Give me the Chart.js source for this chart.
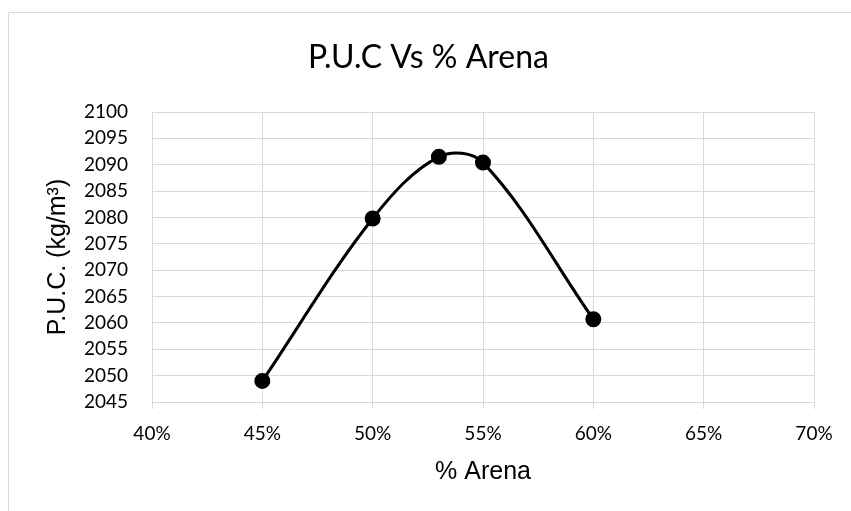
<!DOCTYPE html>
<html lang="es">
<head>
    <meta charset="UTF-8">
    <title>P.U.C Vs % Arena</title>
    <script src="https://cdn.jsdelivr.net/npm/chart.js"></script>
    <style>
        body {
            margin: 0;
            background: #ffffff;
        }
    </style>
</head>
<body>
    <canvas id="pucChart" width="851" height="511"></canvas>

<script>
    // porcentaje de arena (%) y peso unitario compactado (kg/m3)
    const arena = [45, 50, 53, 55, 60];
    const puc = [2049.0, 2079.8, 2091.5, 2090.4, 2060.7];

    // ejes
    const xTicks = [40, 45, 50, 55, 60, 65, 70];
    const yMin = 2045, yMax = 2100, yStep = 5;

    const puntos = arena.map((x, i) => ({ x: x, y: puc[i] }));

    // marco gris alrededor del grafico
    const marco = {
        id: 'marco',
        beforeDraw(chart) {
            const ctx = chart.ctx;
            ctx.save();
            ctx.strokeStyle = '#d9d9d9';
            ctx.lineWidth = 1;
            ctx.beginPath();
            ctx.moveTo(8.5, chart.height);
            ctx.lineTo(8.5, 12.5);
            ctx.lineTo(chart.width, 12.5);
            ctx.stroke();
            ctx.restore();
        }
    };

    const ctx = document.getElementById('pucChart').getContext('2d');
    new Chart(ctx, {
        type: 'scatter',
        data: {
            datasets: [{
                label: 'P.U.C.',
                data: puntos,
                showLine: true,
                tension: 0.35,
                borderColor: '#000000',
                borderWidth: 3,
                pointBackgroundColor: '#000000',
                pointBorderColor: '#000000',
                pointRadius: 6.5,
                pointHoverRadius: 6.5
            }]
        },
        options: {
            responsive: false,
            animation: false,
            layout: { padding: { left: 43, right: 37, top: 0, bottom: 0 } },
            plugins: {
                legend: { display: false },
                tooltip: { enabled: false },
                title: {
                    display: true,
                    text: 'P.U.C Vs % Arena',
                    color: '#000000',
                    font: { family: 'Lato', size: 32, weight: 'normal' },
                    padding: { top: 38, bottom: 35.6 }
                }
            },
            scales: {
                x: {
                    type: 'linear',
                    min: xTicks[0],
                    max: xTicks[xTicks.length - 1],
                    afterBuildTicks(axis) {
                        axis.ticks = xTicks.map(v => ({ value: v }));
                    },
                    afterFit(axis) { axis.height = 109; },
                    grid: { color: '#d9d9d9', lineWidth: 1, tickLength: 7 },
                    border: { color: '#d9d9d9' },
                    ticks: {
                        autoSkip: false,
                        maxRotation: 0,
                        color: '#000000',
                        font: { family: 'Lato', size: 19 },
                        padding: 13,
                        callback: v => v + '%'
                    },
                    title: {
                        display: true,
                        text: '% Arena',
                        color: '#000000',
                        font: { family: 'Liberation Sans', size: 25 },
                        padding: { top: 6, bottom: 24 }
                    }
                },
                y: {
                    min: yMin,
                    max: yMax,
                    afterFit(axis) { axis.width = 109; },
                    grid: { color: '#d9d9d9', lineWidth: 1, drawTicks: false },
                    border: { color: '#d9d9d9' },
                    ticks: {
                        stepSize: yStep,
                        autoSkip: false,
                        color: '#000000',
                        font: { family: 'Lato', size: 19 },
                        padding: 24,
                        callback: v => String(v)
                    },
                    title: {
                        display: true,
                        text: 'P.U.C. (kg/m³)',
                        color: '#000000',
                        font: { family: 'Liberation Sans', size: 25 },
                        padding: { top: 0, bottom: 4 }
                    }
                }
            }
        },
        plugins: [marco]
    });
</script>
</body>
</html>
